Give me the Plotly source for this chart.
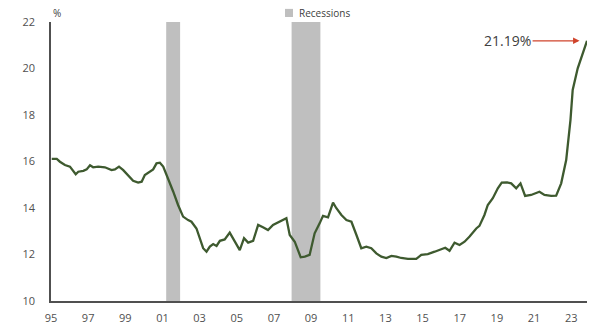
import plotly.graph_objects as go

# Quarterly share (%) plotted against decimal year
years = [1995.04, 1995.31, 1995.48, 1995.75, 1996.02, 1996.33, 1996.47, 1996.74, 1996.92,
         1997.10, 1997.27, 1997.54, 1997.90, 1998.26, 1998.44, 1998.66, 1998.89, 1999.16,
         1999.42, 1999.69, 1999.88, 2000.05, 2000.32, 2000.50, 2000.68, 2000.86, 2001.04,
         2001.31, 2001.58, 2001.84, 2002.11, 2002.38, 2002.56, 2002.83, 2003.01, 2003.19,
         2003.37, 2003.55, 2003.73, 2003.91, 2004.09, 2004.35, 2004.62, 2004.89, 2005.16,
         2005.39, 2005.61, 2005.88, 2006.15, 2006.41, 2006.68, 2006.95, 2007.22, 2007.49,
         2007.67, 2007.85, 2008.12, 2008.44, 2008.66, 2008.92, 2009.19, 2009.46, 2009.64,
         2009.91, 2010.18, 2010.36, 2010.63, 2010.90, 2011.17, 2011.44, 2011.70, 2011.97,
         2012.24, 2012.51, 2012.78, 2013.05, 2013.32, 2013.59, 2013.85, 2014.21, 2014.66,
         2014.93, 2015.28, 2015.65, 2016.01, 2016.22, 2016.45, 2016.72, 2016.99, 2017.26,
         2017.53, 2017.89, 2018.06, 2018.33, 2018.51, 2018.78, 2019.05, 2019.26, 2019.55,
         2019.77, 2020.04, 2020.27, 2020.52, 2020.84, 2021.29, 2021.56, 2021.92, 2022.19,
         2022.46, 2022.73, 2022.96, 2023.08, 2023.35, 2023.62, 2023.85]

values = [16.11, 16.11, 15.99, 15.85, 15.78, 15.45, 15.56, 15.60, 15.66,
          15.84, 15.75, 15.78, 15.75, 15.63, 15.66, 15.78, 15.63, 15.38,
          15.17, 15.09, 15.13, 15.42, 15.56, 15.66, 15.92, 15.95, 15.78,
          15.28, 14.70, 14.13, 13.63, 13.48, 13.41, 13.12, 12.70, 12.27,
          12.12, 12.34, 12.45, 12.37, 12.59, 12.65, 12.94, 12.55, 12.19,
          12.70, 12.51, 12.59, 13.27, 13.17, 13.05, 13.27, 13.37, 13.48,
          13.56, 12.84, 12.55, 11.88, 11.91, 11.98, 12.91, 13.34, 13.66,
          13.60, 14.23, 13.99, 13.70, 13.48, 13.41, 12.84, 12.27, 12.34,
          12.27, 12.05, 11.91, 11.85, 11.94, 11.91, 11.85, 11.81, 11.81,
          11.98, 12.02, 12.12, 12.24, 12.29, 12.16, 12.51, 12.41, 12.55,
          12.77, 13.12, 13.23, 13.70, 14.13, 14.42, 14.85, 15.09, 15.10,
          15.06, 14.85, 15.06, 14.52, 14.56, 14.70, 14.56, 14.52, 14.53,
          15.06, 16.06, 17.78, 19.08, 20.01, 20.65, 21.19]

# Recession periods (start, end) in decimal years
recession_starts = [2001.20, 2007.95]
recession_ends = [2001.95, 2009.50]

tick_years = list(range(1995, 2024, 2))
tick_labels = [f"{y % 100:02d}" for y in tick_years]

LINE = "#3e5a2f"
GREY = "#bfbfbf"
AXIS = "#505050"
TEXT = "#404040"
ARROW = "#d0442c"

fig = go.Figure()

for x0, x1 in zip(recession_starts, recession_ends):
    fig.add_vrect(x0=x0, x1=x1, fillcolor=GREY, line_width=0, layer="below", opacity=1)

fig.add_trace(go.Scatter(x=years, y=values, mode="lines", name="Share",
                         line=dict(color=LINE, width=2.3), showlegend=False))

# key for the shaded periods, above the plot area
fig.add_shape(type="rect", xref="paper", yref="paper",
              x0=0.4366, x1=0.4515, y0=1.018, y1=1.047,
              fillcolor=GREY, line_width=0)
fig.add_annotation(x=0.459, y=1.032, xref="paper", yref="paper", text="Recessions",
                   showarrow=False, xanchor="left", yanchor="middle",
                   font=dict(size=10, color=TEXT))

fig.add_annotation(x=years[-1] - 0.4, y=values[-1], xref="x", yref="y",
                   text=f"{values[-1]:.2f}%", showarrow=True,
                   ax=-72, ay=0, axref="pixel", ayref="pixel",
                   arrowhead=2, arrowsize=1, arrowwidth=1.3, arrowcolor=ARROW,
                   font=dict(size=14, color=TEXT))

fig.add_annotation(x=0, y=1, xref="paper", yref="paper", text="%",
                   showarrow=False, xanchor="left", yanchor="bottom", yshift=0,
                   font=dict(size=10, color=TEXT))

fig.update_layout(
    width=591, height=325,
    margin=dict(l=51, r=4, t=22, b=24, autoexpand=False),
    paper_bgcolor="white", plot_bgcolor="white",
    font=dict(family="Open Sans", color=AXIS, size=11),
    showlegend=False,
)

fig.update_xaxes(range=[1995, 2023.85], tickvals=tick_years, ticktext=tick_labels,
                 showline=True, linecolor=AXIS, linewidth=1.5, showgrid=False,
                 zeroline=False, ticks="", ticklabelstandoff=6, automargin=False,
                 tickfont=dict(size=11, color=AXIS))
fig.update_yaxes(range=[10, 22], dtick=2, showline=True, linecolor=AXIS,
                 linewidth=1.5, showgrid=False, zeroline=False, ticks="",
                 ticklabelstandoff=12, automargin=False,
                 tickfont=dict(size=11, color=AXIS))

fig.write_html("out.html")
